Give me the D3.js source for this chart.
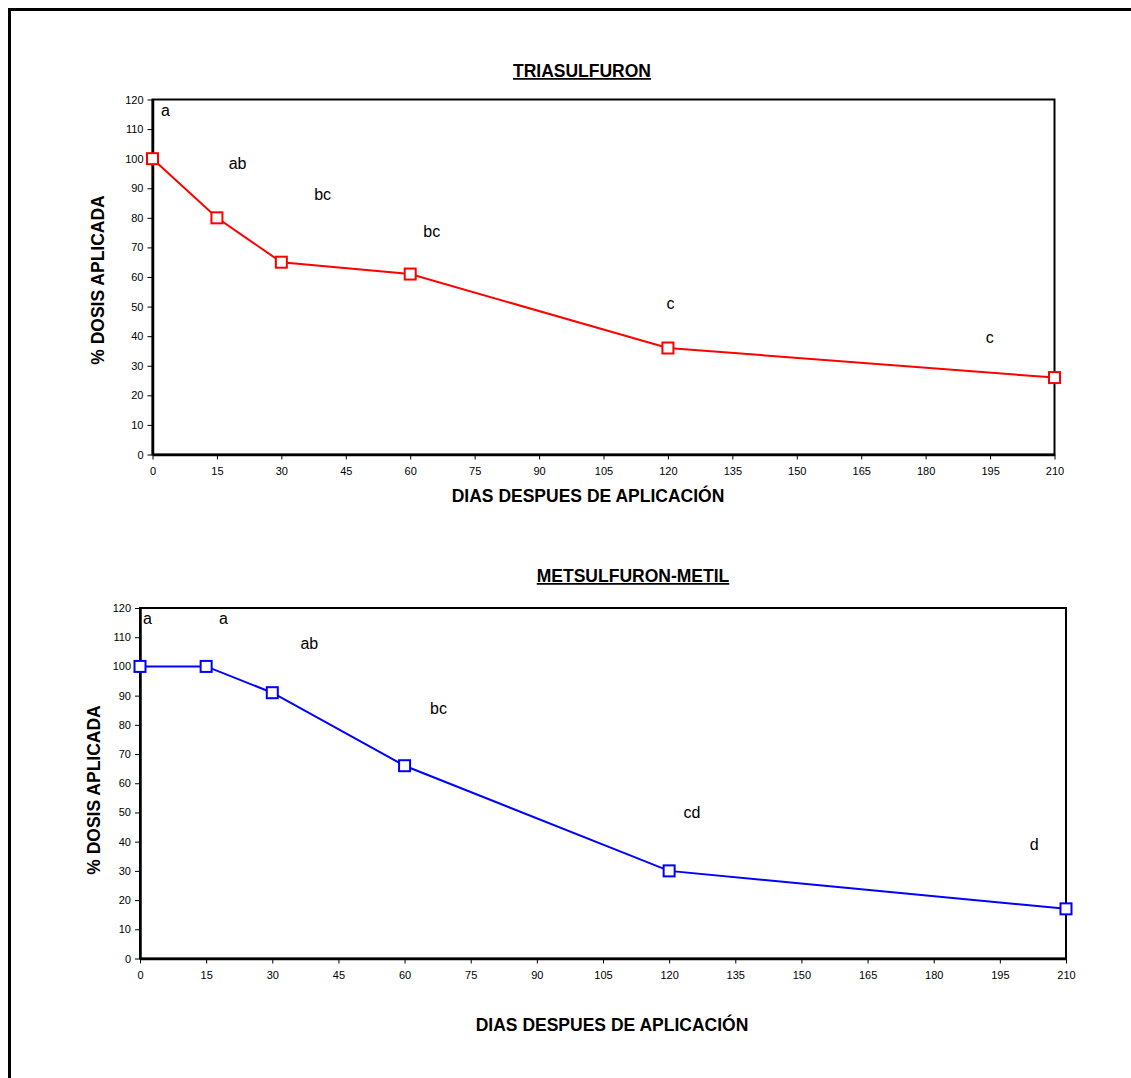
<!DOCTYPE html>
<html>
<head>
<meta charset="utf-8">
<script src="https://cdn.jsdelivr.net/npm/d3@7"></script>
<style>
  html, body { margin: 0; padding: 0; background: #fff; }
  svg { display: block; }
  text { font-family: "Liberation Sans", Arial, sans-serif; fill: #000; }
</style>
</head>
<body>
<svg id="chart" width="1131" height="1078"></svg>
<script>
// Days after application (shared x values)
const days = [0, 15, 30, 60, 120, 210];
const xTicks = [0, 15, 30, 45, 60, 75, 90, 105, 120, 135, 150, 165, 180, 195, 210];
const yTicks = [0, 10, 20, 30, 40, 50, 60, 70, 80, 90, 100, 110, 120];

// % of applied dose remaining
const triasulfuron = [100, 80, 65, 61, 36, 26];
const metsulfuron = [100, 100, 91, 66, 30, 17];

// Significance letters, placed at [day, value]
const triaLetters = ["a", "ab", "bc", "bc", "c", "c"];
const triaLetterPos = [[3, 114.5], [19.8, 96.5], [39.6, 86], [65, 73.5], [120.6, 49.3], [194.9, 37.8]];
const metLetters = ["a", "a", "ab", "bc", "cd", "d"];
const metLetterPos = [[1.7, 114.5], [18.9, 114.5], [38.4, 106], [67.7, 83.8], [125.2, 48.2], [202.8, 37.2]];

const svg = d3.select("#chart");

// outer page frame (continues past the right and bottom edges)
svg.append("path")
  .attr("d", "M9.5,1100 V9.5 H1140")
  .attr("fill", "none").attr("stroke", "#000").attr("stroke-width", 3);

function drawPanel(cfg) {
  const g = svg.append("g");
  const x = d3.scaleLinear().domain([0, 210]).range([cfg.left, cfg.right]);
  const y = d3.scaleLinear().domain([0, 120]).range([cfg.bottom, cfg.top]);

  // plot frame
  g.append("rect")
    .attr("x", cfg.left).attr("y", cfg.top)
    .attr("width", cfg.right - cfg.left).attr("height", cfg.bottom - cfg.top)
    .attr("fill", "none").attr("stroke", "#000").attr("stroke-width", 2);

  const xAxis = g.append("g")
    .attr("transform", `translate(0,${cfg.bottom})`)
    .call(d3.axisBottom(x).tickValues(xTicks).tickSize(5).tickPadding(8).tickSizeOuter(0));
  const yAxis = g.append("g")
    .attr("transform", `translate(${cfg.left},0)`)
    .call(d3.axisLeft(y).tickValues(yTicks).tickSize(5).tickPadding(4).tickSizeOuter(0));
  [xAxis, yAxis].forEach(a => {
    a.select(".domain").attr("stroke", "#000").attr("stroke-width", 2.5);
    a.selectAll(".tick line").attr("stroke", "#000").attr("stroke-width", 1);
    a.selectAll(".tick text")
      .attr("font-family", "Liberation Sans, Arial, sans-serif")
      .attr("font-size", 11).attr("fill", "#000");
  });

  // series line
  const line = d3.line().x((d, i) => x(days[i])).y(d => y(d));
  g.append("path").datum(cfg.values)
    .attr("d", line).attr("fill", "none")
    .attr("stroke", cfg.color).attr("stroke-width", 2);

  // square markers
  g.selectAll("rect.marker").data(cfg.values).join("rect")
    .attr("class", "marker")
    .attr("x", (d, i) => x(days[i]) - 5.5).attr("y", d => y(d) - 5.5)
    .attr("width", 11).attr("height", 11)
    .attr("fill", "#fff").attr("stroke", cfg.color).attr("stroke-width", 2);

  // significance letters
  g.selectAll("text.letter").data(cfg.letters).join("text")
    .attr("class", "letter")
    .attr("x", (d, i) => x(cfg.letterPos[i][0]))
    .attr("y", (d, i) => y(cfg.letterPos[i][1]))
    .attr("text-anchor", "middle")
    .attr("font-size", 16)
    .text(d => d);

  // title
  g.append("text")
    .attr("x", cfg.titleX).attr("y", cfg.titleY)
    .attr("text-anchor", "middle")
    .attr("font-size", 17.5).attr("font-weight", "bold")
    .attr("text-decoration", "underline")
    .text(cfg.title);

  // axis titles
  g.append("text")
    .attr("x", cfg.xTitleX).attr("y", cfg.xTitleY)
    .attr("text-anchor", "middle")
    .attr("font-size", 17.5).attr("font-weight", "bold")
    .text("DIAS DESPUES DE APLICACIÓN");
  g.append("text")
    .attr("transform", `translate(${cfg.yTitleX},${cfg.yTitleY}) rotate(-90)`)
    .attr("text-anchor", "middle")
    .attr("font-size", 17.5).attr("font-weight", "bold")
    .text("% DOSIS APLICADA");
}

drawPanel({
  left: 152.5, right: 1054.5, top: 99.5, bottom: 454.5,
  values: triasulfuron, color: "#ff0000",
  letters: triaLetters, letterPos: triaLetterPos,
  title: "TRIASULFURON", titleX: 582, titleY: 77,
  xTitleX: 588, xTitleY: 502,
  yTitleX: 104, yTitleY: 280
});

drawPanel({
  left: 140, right: 1066, top: 608, bottom: 958.5,
  values: metsulfuron, color: "#0000ff",
  letters: metLetters, letterPos: metLetterPos,
  title: "METSULFURON-METIL", titleX: 633, titleY: 582,
  xTitleX: 612, xTitleY: 1031,
  yTitleX: 100, yTitleY: 790
});
</script>
</body>
</html>
